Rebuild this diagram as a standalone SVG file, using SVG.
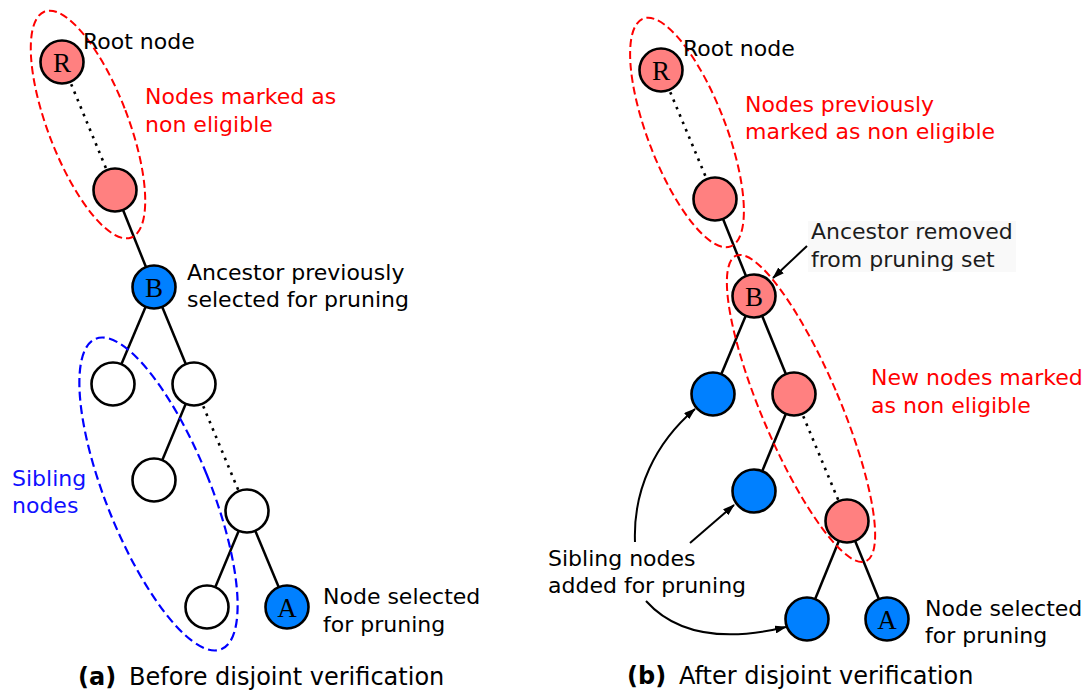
<svg xmlns="http://www.w3.org/2000/svg" width="1088" height="693" viewBox="0 0 1088 693">
  <style>
    .edge { stroke: #000; stroke-width: 2.5; fill: none; }
    .dots { stroke: #000; stroke-width: 2.6; fill: none; stroke-dasharray: 2.6 5.4; }
    .node { stroke: #000; stroke-width: 2.6; }
    .white { fill: #ffffff; }
    .pink { fill: #ff8080; }
    .blue { fill: #0080ff; }
    .redring { fill: none; stroke: #ff0000; stroke-width: 2; stroke-dasharray: 8 4; }
    .bluering { fill: none; stroke: #0000ff; stroke-width: 2.2; stroke-dasharray: 9 4.5; }
    .lbl { font-family: "DejaVu Sans", Verdana, sans-serif; font-size: 22px; fill: #000; }
    .red { fill: #ff0000; }
    .bluetxt { fill: #1010ff; }
    .grey { fill: #1c1c1c; }
    .letter { font-family: "Liberation Serif", "Times New Roman", serif; font-size: 27px; fill: #000; text-anchor: middle; }
    .cap { font-family: "DejaVu Sans", Verdana, sans-serif; font-size: 24px; fill: #000; }
    .capb { font-family: "DejaVu Sans", Verdana, sans-serif; font-size: 24px; font-weight: bold; fill: #000; }
    .ptr { stroke: #000; stroke-width: 2; fill: none; marker-end: url(#head); }
  </style>
  <defs>
    <marker id="head" markerUnits="userSpaceOnUse" markerWidth="12" markerHeight="8" refX="11" refY="4" orient="auto">
      <path d="M0,0 L12,4 L0,8 z" fill="#000"/>
    </marker>
  </defs>

  <rect width="1088" height="693" fill="#ffffff"/>

  <!-- tree edges -->
  <g id="connectors">
    <!-- (a) -->
    <line class="dots" x1="62" y1="62" x2="115" y2="190"/>
    <line class="edge" x1="115" y1="190" x2="154" y2="287"/>
    <line class="edge" x1="154" y1="287" x2="113" y2="384"/>
    <line class="edge" x1="154" y1="287" x2="194" y2="384"/>
    <line class="edge" x1="194" y1="384" x2="154" y2="480"/>
    <line class="dots" x1="194" y1="384" x2="247" y2="511"/>
    <line class="edge" x1="247" y1="511" x2="207" y2="607"/>
    <line class="edge" x1="247" y1="511" x2="287" y2="607"/>
    <!-- (b) -->
    <line class="dots" x1="661" y1="70" x2="715" y2="199"/>
    <line class="edge" x1="715" y1="199" x2="754" y2="296"/>
    <line class="edge" x1="754" y1="296" x2="713" y2="394"/>
    <line class="edge" x1="754" y1="296" x2="794" y2="394"/>
    <line class="edge" x1="794" y1="394" x2="754" y2="491"/>
    <line class="dots" x1="794" y1="394" x2="847" y2="521"/>
    <line class="edge" x1="847" y1="521" x2="807" y2="619"/>
    <line class="edge" x1="847" y1="521" x2="887" y2="619"/>
    <!-- pointers to annotated nodes -->
    <line class="ptr" x1="807" y1="246" x2="773" y2="278"/>
    <path class="ptr" d="M635,542 C633,490 655,443 695,409"/>
    <line class="ptr" x1="690" y1="543" x2="734" y2="505"/>
    <path class="ptr" d="M646,601 Q690,650 786,627"/>
  </g>

  <!-- dashed groupings -->
  <g id="groupings">
    <ellipse class="redring" cx="88" cy="124.5" rx="40" ry="121" transform="rotate(-21 88 124.5)"/>
    <ellipse class="bluering" cx="158.5" cy="494" rx="52" ry="167.5" transform="rotate(-22 158.5 494)"/>
    <ellipse class="redring" cx="687" cy="132.5" rx="39" ry="122" transform="rotate(-21 687 132.5)"/>
    <ellipse class="redring" cx="801" cy="408.5" rx="39" ry="166" transform="rotate(-23 801 408.5)"/>
  </g>

  <!-- (a) nodes -->
  <g id="a-root"><circle class="node pink" cx="62" cy="62" r="21.5"/><text class="letter" x="62" y="71.5">R</text></g>
  <g id="a-mark"><circle class="node pink" cx="115" cy="190" r="21.5"/></g>
  <g id="a-B"><circle class="node blue" cx="154" cy="287" r="21.5"/><text class="letter" x="154" y="296.5">B</text></g>
  <g id="a-s1"><circle class="node white" cx="113" cy="384" r="21.5"/></g>
  <g id="a-p1"><circle class="node white" cx="194" cy="384" r="21.5"/></g>
  <g id="a-s2"><circle class="node white" cx="154" cy="480" r="21.5"/></g>
  <g id="a-p2"><circle class="node white" cx="247" cy="511" r="21.5"/></g>
  <g id="a-s3"><circle class="node white" cx="207" cy="607" r="21.5"/></g>
  <g id="a-A"><circle class="node blue" cx="287" cy="607" r="21.5"/><text class="letter" x="287" y="616.5">A</text></g>

  <!-- (b) nodes -->
  <g id="b-root"><circle class="node pink" cx="661" cy="70" r="21.5"/><text class="letter" x="661" y="79.5">R</text></g>
  <g id="b-mark"><circle class="node pink" cx="715" cy="199" r="21.5"/></g>
  <g id="b-B"><circle class="node pink" cx="754" cy="296" r="21.5"/><text class="letter" x="754" y="305.5">B</text></g>
  <g id="b-s1"><circle class="node blue" cx="713" cy="394" r="21.5"/></g>
  <g id="b-p1"><circle class="node pink" cx="794" cy="394" r="21.5"/></g>
  <g id="b-s2"><circle class="node blue" cx="754" cy="491" r="21.5"/></g>
  <g id="b-p2"><circle class="node pink" cx="847" cy="521" r="21.5"/></g>
  <g id="b-s3"><circle class="node blue" cx="807" cy="619" r="21.5"/></g>
  <g id="b-A"><circle class="node blue" cx="887" cy="619" r="21.5"/><text class="letter" x="887" y="628.5">A</text></g>

  <!-- (a) labels -->
  <g id="a-labels">
    <text class="lbl" x="83" y="49">Root node</text>
    <text class="lbl red" x="145" y="104">Nodes marked as</text>
    <text class="lbl red" x="145" y="132">non eligible</text>
    <text class="lbl" x="187" y="280">Ancestor previously</text>
    <text class="lbl" x="187" y="307">selected for pruning</text>
    <text class="lbl bluetxt" x="12" y="486">Sibling</text>
    <text class="lbl bluetxt" x="12" y="513">nodes</text>
    <text class="lbl" x="323" y="604">Node selected</text>
    <text class="lbl" x="323" y="632">for pruning</text>
    <text class="capb" x="78" y="685">(a)</text>
    <text class="cap" x="129" y="685">Before disjoint verification</text>
  </g>

  <!-- (b) labels -->
  <g id="b-labels">
    <rect x="808" y="221" width="208" height="51" fill="#f9f9f9"/>
    <text class="lbl" x="683" y="56">Root node</text>
    <text class="lbl red" x="745" y="112">Nodes previously</text>
    <text class="lbl red" x="745" y="139">marked as non eligible</text>
    <text class="lbl grey" x="811" y="239">Ancestor removed</text>
    <text class="lbl grey" x="811" y="267">from pruning set</text>
    <text class="lbl red" x="871" y="385">New nodes marked</text>
    <text class="lbl red" x="871" y="413">as non eligible</text>
    <text class="lbl" x="548" y="566">Sibling nodes</text>
    <text class="lbl" x="548" y="593">added for pruning</text>
    <text class="lbl" x="925" y="616">Node selected</text>
    <text class="lbl" x="925" y="643">for pruning</text>
    <text class="capb" x="627" y="684">(b)</text>
    <text class="cap" x="679" y="684">After disjoint verification</text>
  </g>
</svg>
